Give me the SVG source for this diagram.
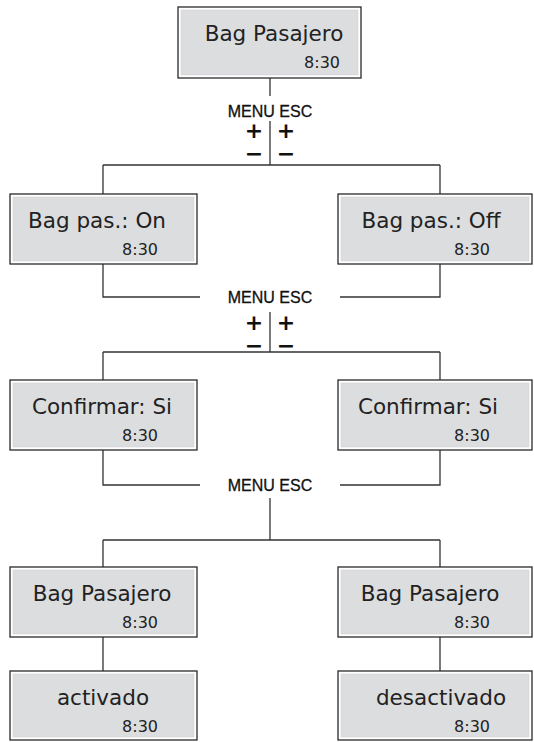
<svg xmlns="http://www.w3.org/2000/svg" width="534" height="742" viewBox="0 0 534 742">
<style>
.outer{fill:#fff;stroke:#2a2a2a;stroke-width:1.3}
.inner{fill:#dcdddf;stroke:#cfcfd1;stroke-width:0.5}
.t{font-family:"DejaVu Sans",sans-serif;font-size:21.5px;fill:#222;text-anchor:middle}
.c{font-family:"DejaVu Sans",sans-serif;font-size:16px;fill:#222;text-anchor:end}
.m{font-family:"Liberation Sans",Arial,sans-serif;font-size:16px;fill:#111;stroke:#111;stroke-width:0.3;text-anchor:middle}
.pm{font-family:"DejaVu Sans",sans-serif;font-size:22px;font-weight:bold;fill:#111;text-anchor:middle}
.ln{stroke:#333;stroke-width:1.3;fill:none}
</style>
<g id="connectors">
<path class="ln" d="M270,78V96 M270,121V165 M103,165H440 M103,165V194 M440,165V194"/>
<path class="ln" d="M103,264V297H200 M440,264V297H340 M270,312V352 M103,352H440 M103,352V380 M440,352V380"/>
<path class="ln" d="M103,450V485H200 M440,450V485H340 M270,498V540 M103,540H440 M103,540V567 M440,540V567"/>
<path class="ln" d="M103,637V671 M440,637V671"/>
<text class="m" x="270" y="117">MENU ESC</text>
<text class="pm" x="254" y="138">+<tspan x="254" y="161">−</tspan></text>
<text class="pm" x="286" y="138">+<tspan x="286" y="161">−</tspan></text>
<text class="m" x="270" y="303">MENU ESC</text>
<text class="pm" x="254" y="330">+<tspan x="254" y="353">−</tspan></text>
<text class="pm" x="286" y="330">+<tspan x="286" y="353">−</tspan></text>
<text class="m" x="270" y="491">MENU ESC</text>
</g>
<g id="n0"><rect class="outer" x="178" y="7" width="183" height="71"/><rect class="inner" x="181" y="10" width="177" height="65"/><text class="t" x="274" y="41">Bag Pasajero</text><text class="c" x="340" y="68">8:30</text></g>
<g id="n1"><rect class="outer" x="10" y="194" width="187" height="70"/><rect class="inner" x="13" y="197" width="181" height="64"/><text class="t" x="97" y="228">Bag pas.: On</text><text class="c" x="158" y="255">8:30</text></g>
<g id="n2"><rect class="outer" x="338" y="194" width="194" height="70"/><rect class="inner" x="341" y="197" width="188" height="64"/><text class="t" x="431" y="228">Bag pas.: Off</text><text class="c" x="490" y="255">8:30</text></g>
<g id="n3"><rect class="outer" x="10" y="380" width="187" height="70"/><rect class="inner" x="13" y="383" width="181" height="64"/><text class="t" x="102" y="414">Confirmar: Si</text><text class="c" x="158" y="441">8:30</text></g>
<g id="n4"><rect class="outer" x="338" y="380" width="194" height="70"/><rect class="inner" x="341" y="383" width="188" height="64"/><text class="t" x="428" y="414">Confirmar: Si</text><text class="c" x="490" y="441">8:30</text></g>
<g id="n5"><rect class="outer" x="10" y="567" width="187" height="70"/><rect class="inner" x="13" y="570" width="181" height="64"/><text class="t" x="102" y="601">Bag Pasajero</text><text class="c" x="158" y="628">8:30</text></g>
<g id="n6"><rect class="outer" x="338" y="567" width="194" height="70"/><rect class="inner" x="341" y="570" width="188" height="64"/><text class="t" x="430" y="601">Bag Pasajero</text><text class="c" x="490" y="628">8:30</text></g>
<g id="n7"><rect class="outer" x="10" y="671" width="187" height="69"/><rect class="inner" x="13" y="674" width="181" height="63"/><text class="t" x="103" y="705">activado</text><text class="c" x="158" y="732">8:30</text></g>
<g id="n8"><rect class="outer" x="338" y="671" width="194" height="69"/><rect class="inner" x="341" y="674" width="188" height="63"/><text class="t" x="441" y="705">desactivado</text><text class="c" x="490" y="732">8:30</text></g>
</svg>
